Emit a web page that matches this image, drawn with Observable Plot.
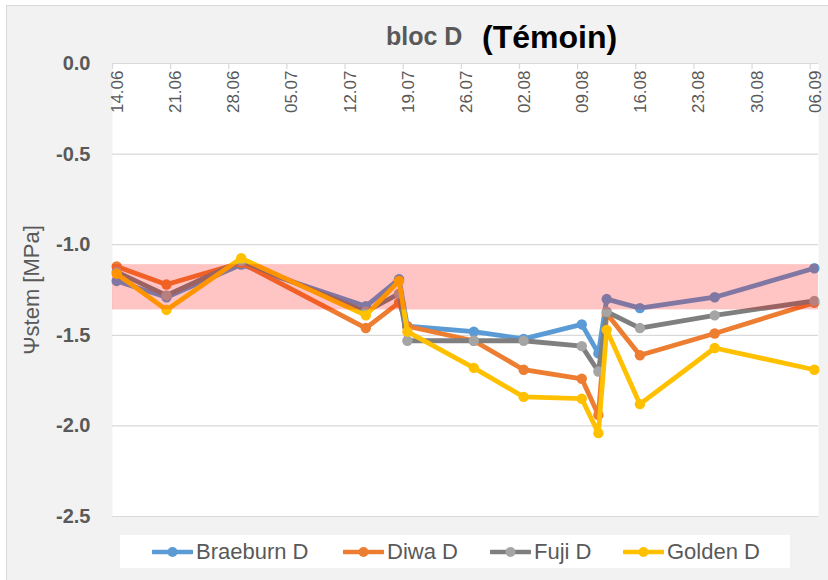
<!DOCTYPE html>
<html>
<head>
<meta charset="utf-8">
<script src="https://cdn.jsdelivr.net/npm/d3@7"></script>
<script src="https://cdn.jsdelivr.net/npm/@observablehq/plot@0.6"></script>
<style>
  html, body { margin: 0; padding: 0; background: #ffffff; }
  body { width: 828px; height: 580px; position: relative; overflow: hidden;
         font-family: "Liberation Sans", Arial, sans-serif; }
  #panel { position: absolute; left: 6px; top: 5px; width: 840px; height: 600px;
           background: #f2f2f2; border: 1px solid #d9d9d9; box-sizing: border-box; }
  #chart { position: absolute; left: 0; top: 0; }
  .ttl { position: absolute; line-height: 1; font-weight: bold; white-space: nowrap; }
  #ylab { position: absolute; left: 32px; top: 290px; transform: translate(-50%, -50%) rotate(-90deg);
          font-size: 22px; color: #595959; white-space: nowrap; line-height: 1; }
  #legend { position: absolute; left: 120px; top: 535px; width: 670px; height: 33px; background: #ffffff; }
  .li { position: absolute; top: 0; height: 33px; display: flex; align-items: center;
        font-size: 22px; color: #595959; white-space: nowrap; }
  .li svg { margin-right: 3px; }
</style>
</head>
<body>
<div id="panel"></div>
<div id="chart"></div>
<div class="ttl" style="left:386px; top:24px; font-size:25px; color:#595959;">bloc D</div>
<div class="ttl" style="left:482px; top:21px; font-size:32px; color:#000000;">(Témoin)</div>
<div id="ylab">Ψstem [MPa]</div>
<div id="legend"></div>
<script>
// ---- data ----
const year = 2021;
const dates = ["14.06","20.06","29.06","14.07","18.07","19.07","27.07","02.08","09.08","11.08","12.08","16.08","25.08","06.09"];
const braeburn = [-1.20, -1.29, -1.11, -1.34, -1.19, -1.45, -1.48, -1.52, -1.44, -1.60, -1.30, -1.35, -1.29, -1.13];
const diwa     = [-1.12, -1.22, -1.10, -1.46, -1.32, -1.45, -1.53, -1.69, -1.74, -1.94, -1.38, -1.61, -1.49, -1.32];
const fuji     = [-1.15, -1.28, -1.09, -1.37, -1.27, -1.53, -1.53, -1.53, -1.56, -1.70, -1.37, -1.46, -1.39, -1.31];
const golden   = [-1.16, -1.36, -1.075, -1.39, -1.20, -1.48, -1.68, -1.84, -1.85, -2.04, -1.47, -1.88, -1.57, -1.69];
const seriesNames = ["Braeburn D", "Diwa D", "Fuji D", "Golden D"];
const lineColors = ["#5B9BD5", "#ED7D31", "#7F7F7F", "#FFC000"];
const dotColors  = ["#5B9BD5", "#ED7D31", "#A5A5A5", "#FFC000"];
const xTicks = ["14.06","21.06","28.06","05.07","12.07","19.07","26.07","02.08","09.08","16.08","23.08","30.08","06.09"];
const xDomain = ["14.06", "07.09"];
const yTicks = [0, -0.5, -1.0, -1.5, -2.0, -2.5];
const yDomain = [-2.5, 0];
const band = [-1.11, -1.36];

// ---- build ----
const parse = d3.utcParse("%d.%m.%Y");
const day = (s) => parse(s + "." + year);
const noon = (s) => d3.utcHour.offset(day(s), 12);
const values = [braeburn, diwa, fuji, golden];
const rows = [];
values.forEach((vals, si) => vals.forEach((v, i) => rows.push({series: seriesNames[si], date: noon(dates[i]), value: v})));
const tickDates = xTicks.map(day);

const seriesMarks = [];
seriesNames.forEach((name, si) => {
  const data = rows.filter(r => r.series === name);
  seriesMarks.push(Plot.line(data, {x: "date", y: "value", stroke: lineColors[si], strokeWidth: 4.8}));
  seriesMarks.push(Plot.dot(data, {x: "date", y: "value", r: 5.2, fill: dotColors[si], stroke: "none"}));
});

const chart = Plot.plot({
  width: 828,
  height: 530,
  marginLeft: 112,
  marginRight: 10,
  marginTop: 63,
  marginBottom: 14,
  style: {background: "transparent", fontFamily: "Liberation Sans, Arial, sans-serif", overflow: "visible"},
  x: {type: "utc", domain: xDomain.map(day), axis: null},
  y: {domain: yDomain, axis: null},
  marks: [
    Plot.frame({fill: "white", stroke: "none"}),
    Plot.gridY(yTicks, {stroke: "#d9d9d9", strokeOpacity: 1, strokeWidth: 1.2}),
    Plot.ruleX(tickDates, {x: d => d, y1: 0, y2: 0, insetBottom: -6, stroke: "#d9d9d9", strokeWidth: 1.2}),
    Plot.text(tickDates, {x: d => d, y: 0, text: (d, i) => xTicks[i], rotate: -90, textAnchor: "end",
      dy: 7, dx: 5, fontSize: 17, fill: "#595959"}),
    ...seriesMarks,
    Plot.rect([band], {y1: d => d[0], y2: d => d[1], fill: "#ff0000", fillOpacity: 0.23}),
    Plot.axisY(yTicks, {tickSize: 0, tickPadding: 22, tickFormat: d => d.toFixed(1), fontSize: 20,
      fontWeight: "bold", fill: "#595959", label: null})
  ]
});
document.getElementById("chart").appendChild(chart);

// ---- legend ----
const legend = document.getElementById("legend");
const legendLefts = [32, 223, 370, 503];
seriesNames.forEach((name, si) => {
  const item = document.createElement("div");
  item.className = "li";
  item.style.left = legendLefts[si] + "px";
  item.innerHTML = `<svg width="41" height="14"><line x1="1" y1="7" x2="40" y2="7" stroke="${lineColors[si]}" stroke-width="4.5" stroke-linecap="round"/><circle cx="20.5" cy="7" r="5" fill="${dotColors[si]}"/></svg><span>${name}</span>`;
  legend.appendChild(item);
});
</script>
</body>
</html>
